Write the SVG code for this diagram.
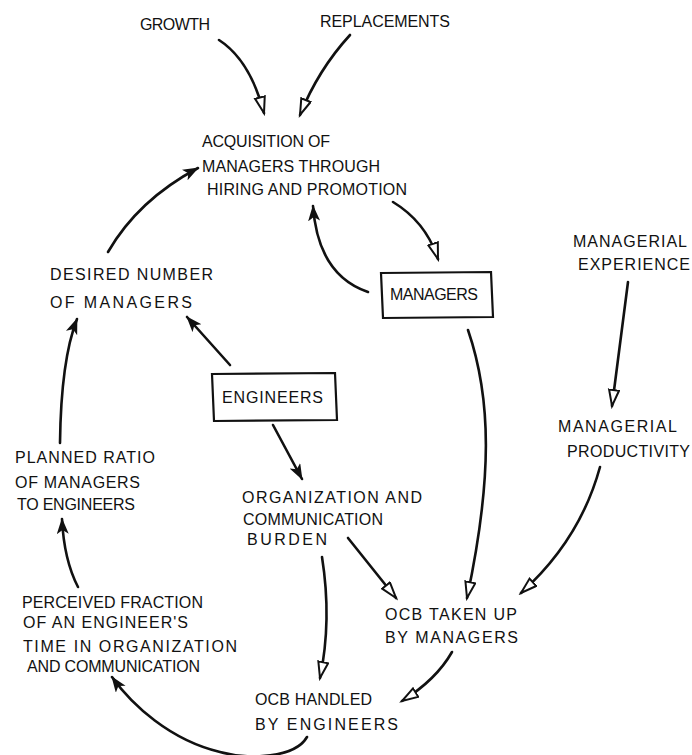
<svg xmlns="http://www.w3.org/2000/svg" width="692" height="755" viewBox="0 0 692 755">
  <style>
    .lbl { font-family: "Liberation Sans", Arial, sans-serif; font-size: 16px; fill: #111; }
    .box { fill: none; stroke: #111; stroke-width: 2.2; }
    .link { fill: none; stroke: #111; stroke-width: 2.6; stroke-linecap: round; }
    .solid { marker-end: url(#headSolid); }
    .hollow { marker-end: url(#headHollow); }
  </style>
  <defs>
    <marker id="headSolid" markerUnits="userSpaceOnUse" markerWidth="18" markerHeight="14" refX="15" refY="6" orient="auto">
      <path d="M0,0 L16,6 L0,12 L4,6 z" fill="#111"/>
    </marker>
    <marker id="headHollow" markerUnits="userSpaceOnUse" markerWidth="20" markerHeight="14" refX="17" refY="6" orient="auto">
      <path d="M1,1 L17,6 L1,11 z" fill="#fff" stroke="#111" stroke-width="2"/>
    </marker>
  </defs>
  <rect width="692" height="755" fill="#fff"/>

  <g id="growth"><text class="lbl" x="140" y="30" textLength="70">GROWTH</text></g>
  <g id="replacements"><text class="lbl" x="320" y="27" textLength="130">REPLACEMENTS</text></g>
  <g id="acquisition">
    <text class="lbl" x="202" y="147" textLength="128">ACQUISITION OF</text>
    <text class="lbl" x="202" y="172" textLength="178">MANAGERS THROUGH</text>
    <text class="lbl" x="207" y="195" textLength="200">HIRING AND PROMOTION</text>
  </g>
  <g id="managers">
    <path class="box" d="M381,273 L491,272 L493,317 L383,318 z"/>
    <text class="lbl" x="390" y="300" textLength="88">MANAGERS</text>
  </g>
  <g id="desired">
    <text class="lbl" x="50" y="280" textLength="163">DESIRED NUMBER</text>
    <text class="lbl" x="50" y="308" textLength="142">OF MANAGERS</text>
  </g>
  <g id="engineers">
    <path class="box" d="M212,374 L335,373 L337,420 L214,421 z"/>
    <text class="lbl" x="222" y="403" textLength="101">ENGINEERS</text>
  </g>
  <g id="experience">
    <text class="lbl" x="573" y="247" textLength="114">MANAGERIAL</text>
    <text class="lbl" x="578" y="270" textLength="112">EXPERIENCE</text>
  </g>
  <g id="productivity">
    <text class="lbl" x="558" y="432" textLength="119">MANAGERIAL</text>
    <text class="lbl" x="567" y="457" textLength="123">PRODUCTIVITY</text>
  </g>
  <g id="planned">
    <text class="lbl" x="15" y="463" textLength="140">PLANNED RATIO</text>
    <text class="lbl" x="15" y="488" textLength="125">OF MANAGERS</text>
    <text class="lbl" x="17" y="510" textLength="118">TO ENGINEERS</text>
  </g>
  <g id="burden">
    <text class="lbl" x="242" y="503" textLength="180">ORGANIZATION AND</text>
    <text class="lbl" x="243" y="525" textLength="140">COMMUNICATION</text>
    <text class="lbl" x="247" y="545" textLength="80">BURDEN</text>
  </g>
  <g id="perceived">
    <text class="lbl" x="22" y="608" textLength="181">PERCEIVED FRACTION</text>
    <text class="lbl" x="23" y="628" textLength="165">OF AN ENGINEER'S</text>
    <text class="lbl" x="23" y="652" textLength="214">TIME IN ORGANIZATION</text>
    <text class="lbl" x="27" y="672" textLength="173">AND COMMUNICATION</text>
  </g>
  <g id="ocbManagers">
    <text class="lbl" x="385" y="620" textLength="132">OCB TAKEN UP</text>
    <text class="lbl" x="385" y="643" textLength="133">BY MANAGERS</text>
  </g>
  <g id="ocbEngineers">
    <text class="lbl" x="255" y="705" textLength="117">OCB HANDLED</text>
    <text class="lbl" x="255" y="730" textLength="143">BY ENGINEERS</text>
  </g>

  <g id="connectors">
    <path class="link hollow" d="M219,40 Q250,60 264,113"/>
    <path class="link hollow" d="M350,35 Q318,70 300,115"/>
    <path class="link hollow" d="M393,202 Q426,222 438,259"/>
    <path class="link solid" d="M368,292 Q318,275 313,206"/>
    <path class="link solid" d="M108,252 Q138,200 198,168"/>
    <path class="link solid" d="M230,365 L187,317"/>
    <path class="link solid" d="M60,443 Q61,360 77,319"/>
    <path class="link solid" d="M78,587 Q64,560 62,519"/>
    <path class="link solid" d="M273,425 L302,479"/>
    <path class="link hollow" d="M348,538 L396,598"/>
    <path class="link hollow" d="M322,557 Q332,620 320,678"/>
    <path class="link solid" d="M307,737 C295,758 250,760 220,752 C170,740 132,705 112,677"/>
    <path class="link hollow" d="M468,330 C492,400 492,480 467,598"/>
    <path class="link hollow" d="M628,282 L612,406"/>
    <path class="link hollow" d="M600,467 Q580,540 521,593"/>
    <path class="link hollow" d="M452,652 Q436,680 402,701"/>
  </g>
</svg>
